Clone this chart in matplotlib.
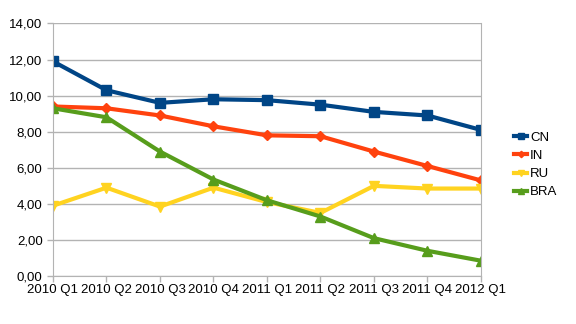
import numpy as np
import matplotlib.pyplot as plt
from matplotlib.ticker import FuncFormatter

quarters = ["2010 Q1", "2010 Q2", "2010 Q3", "2010 Q4", "2011 Q1",
            "2011 Q2", "2011 Q3", "2011 Q4", "2012 Q1"]
cn = [11.9, 10.3, 9.6, 9.8, 9.75, 9.5, 9.1, 8.9, 8.1]
india = [9.4, 9.3, 8.9, 8.3, 7.8, 7.75, 6.9, 6.1, 5.3]
ru = [3.9, 4.9, 3.85, 4.9, 4.1, 3.5, 5.0, 4.85, 4.85]
bra = [9.3, 8.8, 6.9, 5.35, 4.2, 3.3, 2.1, 1.4, 0.85]

plt.rcParams['font.family'] = ['Liberation Sans', 'DejaVu Sans']

fig = plt.figure(figsize=(5.76, 3.24), dpi=100)
ax = fig.add_axes([0.092, 0.148, 0.743, 0.7795])

x = np.arange(len(quarters))
series = [
    ("CN", cn, "#004586", "s", 7),
    ("IN", india, "#ff420e", "D", 5),
    ("RU", ru, "#ffd320", "v", 7),
    ("BRA", bra, "#579d1c", "^", 7),
]
for name, vals, col, mk, ms in series:
    ax.plot(x, vals, color=col, lw=3, marker=mk, markersize=ms, label=name,
            markeredgecolor=col)

ax.set_xlim(0, len(quarters) - 1)
ax.set_ylim(0, 14)
ax.set_yticks(np.arange(0, 15, 2))
ax.yaxis.set_major_formatter(FuncFormatter(lambda v, p: f"{v:.2f}".replace(".", ",")))
ax.set_xticks(x)
ax.set_xticklabels(quarters)
ax.tick_params(axis='both', labelsize=9.5, colors='#b3b3b3', labelcolor='black',
               length=4, width=1)
ax.tick_params(axis='x', pad=2)
ax.grid(axis='y', color='#b3b3b3', lw=1)
ax.set_axisbelow(True)
for s in ax.spines.values():
    s.set_color('#b3b3b3')
ax.spines['top'].set_visible(False)

leg = ax.legend(loc='center left', bbox_to_anchor=(1.05, 0.44), frameon=False,
                fontsize=9.5, handlelength=1.0, handletextpad=0.2,
                labelspacing=0.45, markerscale=0.65)

fig.savefig("out.png", dpi=100)
